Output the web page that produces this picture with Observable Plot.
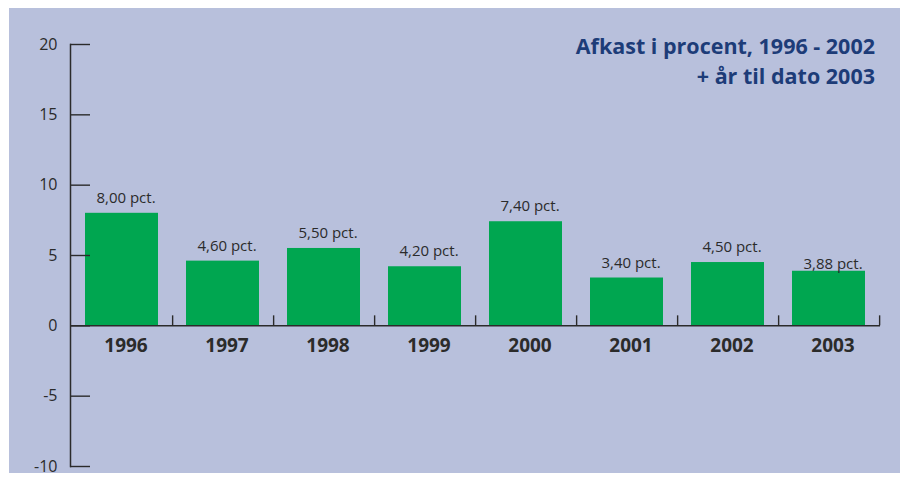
<!DOCTYPE html>
<html>
<head>
<meta charset="utf-8">
<script src="https://cdn.jsdelivr.net/npm/d3@7"></script>
<script src="https://cdn.jsdelivr.net/npm/@observablehq/plot@0.6"></script>
<style>
  html, body { margin: 0; padding: 0; background: #ffffff; }
  #chart { position: relative; width: 900px; height: 483px; overflow: hidden; }
  #panel { position: absolute; left: 9px; top: 8px; width: 891px; height: 465px; background: #b8c0dc; }
  #chart svg { position: absolute; left: 0; top: 0; }
  #title {
    position: absolute; right: 25px; top: 31px; text-align: right;
    font: 700 21.5px "Open Sans", sans-serif; line-height: 30px; color: #1d3c78;
  }
</style>
</head>
<body>
<div id="chart">
  <div id="panel"></div>
  <div id="title">Afkast i procent, 1996 - 2002<br>+ år til dato 2003</div>
</div>
<script>
// Annual return (percent), 1996-2002 plus year-to-date 2003
const years = ["1996", "1997", "1998", "1999", "2000", "2001", "2002", "2003"];
const returns = [8.00, 4.60, 5.50, 4.20, 7.40, 3.40, 4.50, 3.88];
const yTicks = [-10, -5, 0, 5, 10, 15, 20];

const data = years.map((year, i) => ({year, value: returns[i]}));
const pct = (v) => v.toFixed(2).replace(".", ",") + " pct.";

const width = 900, height = 483;
const marginLeft = 70, marginRight = 20, marginTop = 44, marginBottom = 17;
const step = (width - marginLeft - marginRight) / years.length;

const ink = "#2b2b2b";

const chart = Plot.plot({
  width, height, marginLeft, marginRight, marginTop, marginBottom,
  style: {background: "transparent", fontFamily: "Open Sans, sans-serif", color: ink},
  x: {domain: years, paddingInner: 0.28, paddingOuter: 0.14, axis: null},
  y: {domain: [-10, 20], axis: null, label: null},
  marks: [
    Plot.barY(data, {x: "year", y: "value", fill: "#00a650"}),
    // value axis: line, inward ticks, labels
    Plot.frame({anchor: "left", stroke: ink, strokeWidth: 1.5}),
    Plot.tickY(yTicks, {y: (d) => d, stroke: ink, strokeWidth: 1.4,
      insetRight: width - marginLeft - marginRight - 20}),
    Plot.axisY(yTicks, {tickSize: 0, tickPadding: 13, fontSize: 16, fill: ink,
      label: null, tickFormat: (d) => String(d)}),
    // baseline at zero with upward ticks between the years
    Plot.ruleY([0], {stroke: ink, strokeWidth: 1.5}),
    Plot.ruleX(years, {x: (d) => d, y1: () => 0, y2: () => 0, insetTop: -10,
      dx: step / 2, stroke: ink, strokeWidth: 1.4}),
    // year labels under the baseline
    Plot.text(years, {x: (d) => d, y: () => 0, dy: 20, dx: 4, text: (d) => d,
      fontSize: 19, fontWeight: "bold", fill: ink}),
    // value labels above the bars
    Plot.text(data, {filter: (d) => d.year !== "2003", x: "year", y: "value",
      text: (d) => pct(d.value), lineAnchor: "bottom", dy: -10.5, dx: 4,
      fontSize: 15, fill: ink}),
    Plot.text(data, {filter: (d) => d.year === "2003", x: "year", y: "value",
      text: (d) => pct(d.value), lineAnchor: "bottom", dy: -2.5, dx: 4,
      fontSize: 15, fill: ink})
  ]
});

document.getElementById("chart").appendChild(chart);
</script>
</body>
</html>
